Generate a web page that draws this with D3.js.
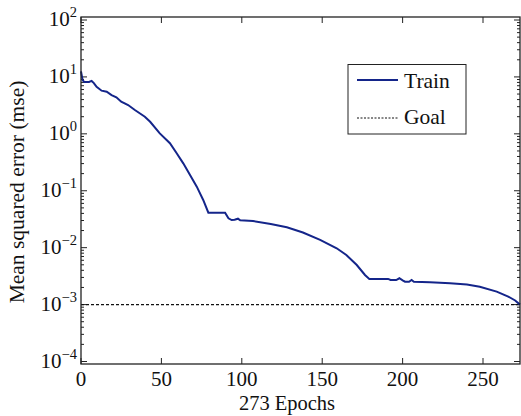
<!DOCTYPE html>
<html>
<head>
<meta charset="utf-8">
<script src="https://cdn.jsdelivr.net/npm/d3@7"></script>
<style>
  body { margin: 0; background: #fff; }
  text { font-family: "Liberation Serif", "DejaVu Serif", serif; fill: #111; }
</style>
</head>
<body>
<div id="chart"></div>
<script>
// training record
var epochs = [0, 1, 2, 5, 6.6, 8, 9.7, 12.8, 16, 19, 22, 25, 29.3, 33.5, 39.7, 43, 49, 55.3, 59.5, 63.6,
  67.8, 72, 76, 79.2, 89.6, 91.7, 93.7, 95.5, 97.6, 99, 107, 118, 128, 138, 148.7, 159, 165, 171.5,
  176.6, 179.3, 191, 192.5, 196, 198, 200, 201.5, 204, 205.6, 207, 217, 229.5, 240, 248, 258.5,
  265.7, 270, 273]
var trainMse = [12.5, 8.8, 8.15, 8.15, 8.5, 7.8, 6.7, 5.73, 5.5, 4.8, 4.38, 3.67, 3.21, 2.62, 2.0, 1.63,
  1.02, 0.683, 0.455, 0.303, 0.189, 0.118, 0.0689, 0.0412, 0.0412, 0.0328, 0.0306, 0.031, 0.0323,
  0.0302, 0.0294, 0.0261, 0.0228, 0.0185, 0.0137, 0.00975, 0.00743, 0.00496, 0.00331, 0.00282,
  0.00282, 0.0027, 0.0027, 0.0029, 0.00266, 0.00252, 0.00252, 0.0027, 0.00252, 0.00247, 0.00237,
  0.00225, 0.00206, 0.00169, 0.00138, 0.00118, 0.000998]
var goal = 0.001
var xTicks = [0, 50, 100, 150, 200, 250]
var yTicks = [1e-4, 1e-3, 1e-2, 1e-1, 1e0, 1e1, 1e2]
var yExp = ["\u22124", "\u22123", "\u22122", "\u22121", "0", "1", "2"]
var legendNames = ["Train", "Goal"]

var W = 521, H = 416
var box = {left: 81, right: 520, top: 17, bottom: 364}

var svg = d3.select("#chart").append("svg")
  .attr("width", W).attr("height", H)

var x = d3.scaleLinear().domain([0, 273]).range([box.left, box.right])
var y = d3.scaleLog().domain([1e-4, 1e2]).range([361.5, 20])

// minor log ticks
var minor = []
for (var e = -4; e < 2; e++) {
  for (var m = 2; m <= 9; m++) minor.push(m * Math.pow(10, e))
}

var ticks = svg.append("g").attr("stroke", "#222").attr("stroke-width", 1)
ticks.selectAll(".ymin").data(minor).join("path")
  .attr("d", function(d) { return "M" + box.left + "," + y(d) + "h3M" + box.right + "," + y(d) + "h-3" })
ticks.selectAll(".ymaj").data(yTicks).join("path")
  .attr("d", function(d) { return "M" + box.left + "," + y(d) + "h6M" + box.right + "," + y(d) + "h-6" })
ticks.selectAll(".xmaj").data(xTicks).join("path")
  .attr("d", function(d) { return "M" + x(d) + "," + box.bottom + "v-6M" + x(d) + "," + box.top + "v6" })

// goal line
svg.append("line")
  .attr("x1", x(0)).attr("x2", x(273))
  .attr("y1", y(goal)).attr("y2", y(goal))
  .attr("stroke", "#111").attr("stroke-width", 1.2)
  .attr("stroke-dasharray", "3,2")

// training curve
var pts = epochs.map(function(d, i) { return [d, trainMse[i]] })
svg.append("path")
  .datum(pts)
  .attr("fill", "none")
  .attr("stroke", "#14258a")
  .attr("stroke-width", 2)
  .attr("d", d3.line()
    .x(function(d) { return x(d[0]) })
    .y(function(d) { return y(d[1]) }))

// axes box
svg.append("rect")
  .attr("x", box.left).attr("y", box.top)
  .attr("width", box.right - box.left).attr("height", box.bottom - box.top)
  .attr("fill", "none").attr("stroke", "#222").attr("stroke-width", 1.3)

// tick labels
svg.selectAll(".xl").data(xTicks).join("text")
  .attr("x", function(d) { return x(d) })
  .attr("y", 386)
  .attr("text-anchor", "middle")
  .attr("font-size", 21)
  .text(function(d) { return d })

var yl = svg.selectAll(".yl").data(yTicks).join("text")
  .attr("x", 77)
  .attr("y", function(d) { return y(d) + 6 })
  .attr("text-anchor", "end")
  .attr("font-size", 21)
yl.append("tspan").text("10")
yl.append("tspan")
  .attr("dy", -9)
  .attr("font-size", 14.5)
  .text(function(d, i) { return yExp[i] })

// axis titles
svg.append("text")
  .attr("x", 287).attr("y", 410)
  .attr("text-anchor", "middle")
  .attr("font-size", 20.5)
  .text("273 Epochs")

svg.append("text")
  .attr("transform", "translate(24,192) rotate(-90)")
  .attr("text-anchor", "middle")
  .attr("font-size", 21.5)
  .text("Mean squared error (mse)")

// legend
var lg = svg.append("g")
lg.append("rect")
  .attr("x", 348).attr("y", 64.5).attr("width", 118).attr("height", 69.5)
  .attr("fill", "#fff").attr("stroke", "#222").attr("stroke-width", 1)
lg.append("line")
  .attr("x1", 357).attr("x2", 398).attr("y1", 80).attr("y2", 80)
  .attr("stroke", "#14258a").attr("stroke-width", 2)
lg.append("line")
  .attr("x1", 357).attr("x2", 398).attr("y1", 118).attr("y2", 118)
  .attr("stroke", "#111").attr("stroke-width", 1)
  .attr("stroke-dasharray", "2,1.5")
lg.selectAll(".lt").data(legendNames).join("text")
  .attr("x", 404)
  .attr("y", function(d, i) { return i == 0 ? 87.5 : 123.5 })
  .attr("font-size", 21.5)
  .text(function(d) { return d })
</script>
</body>
</html>
